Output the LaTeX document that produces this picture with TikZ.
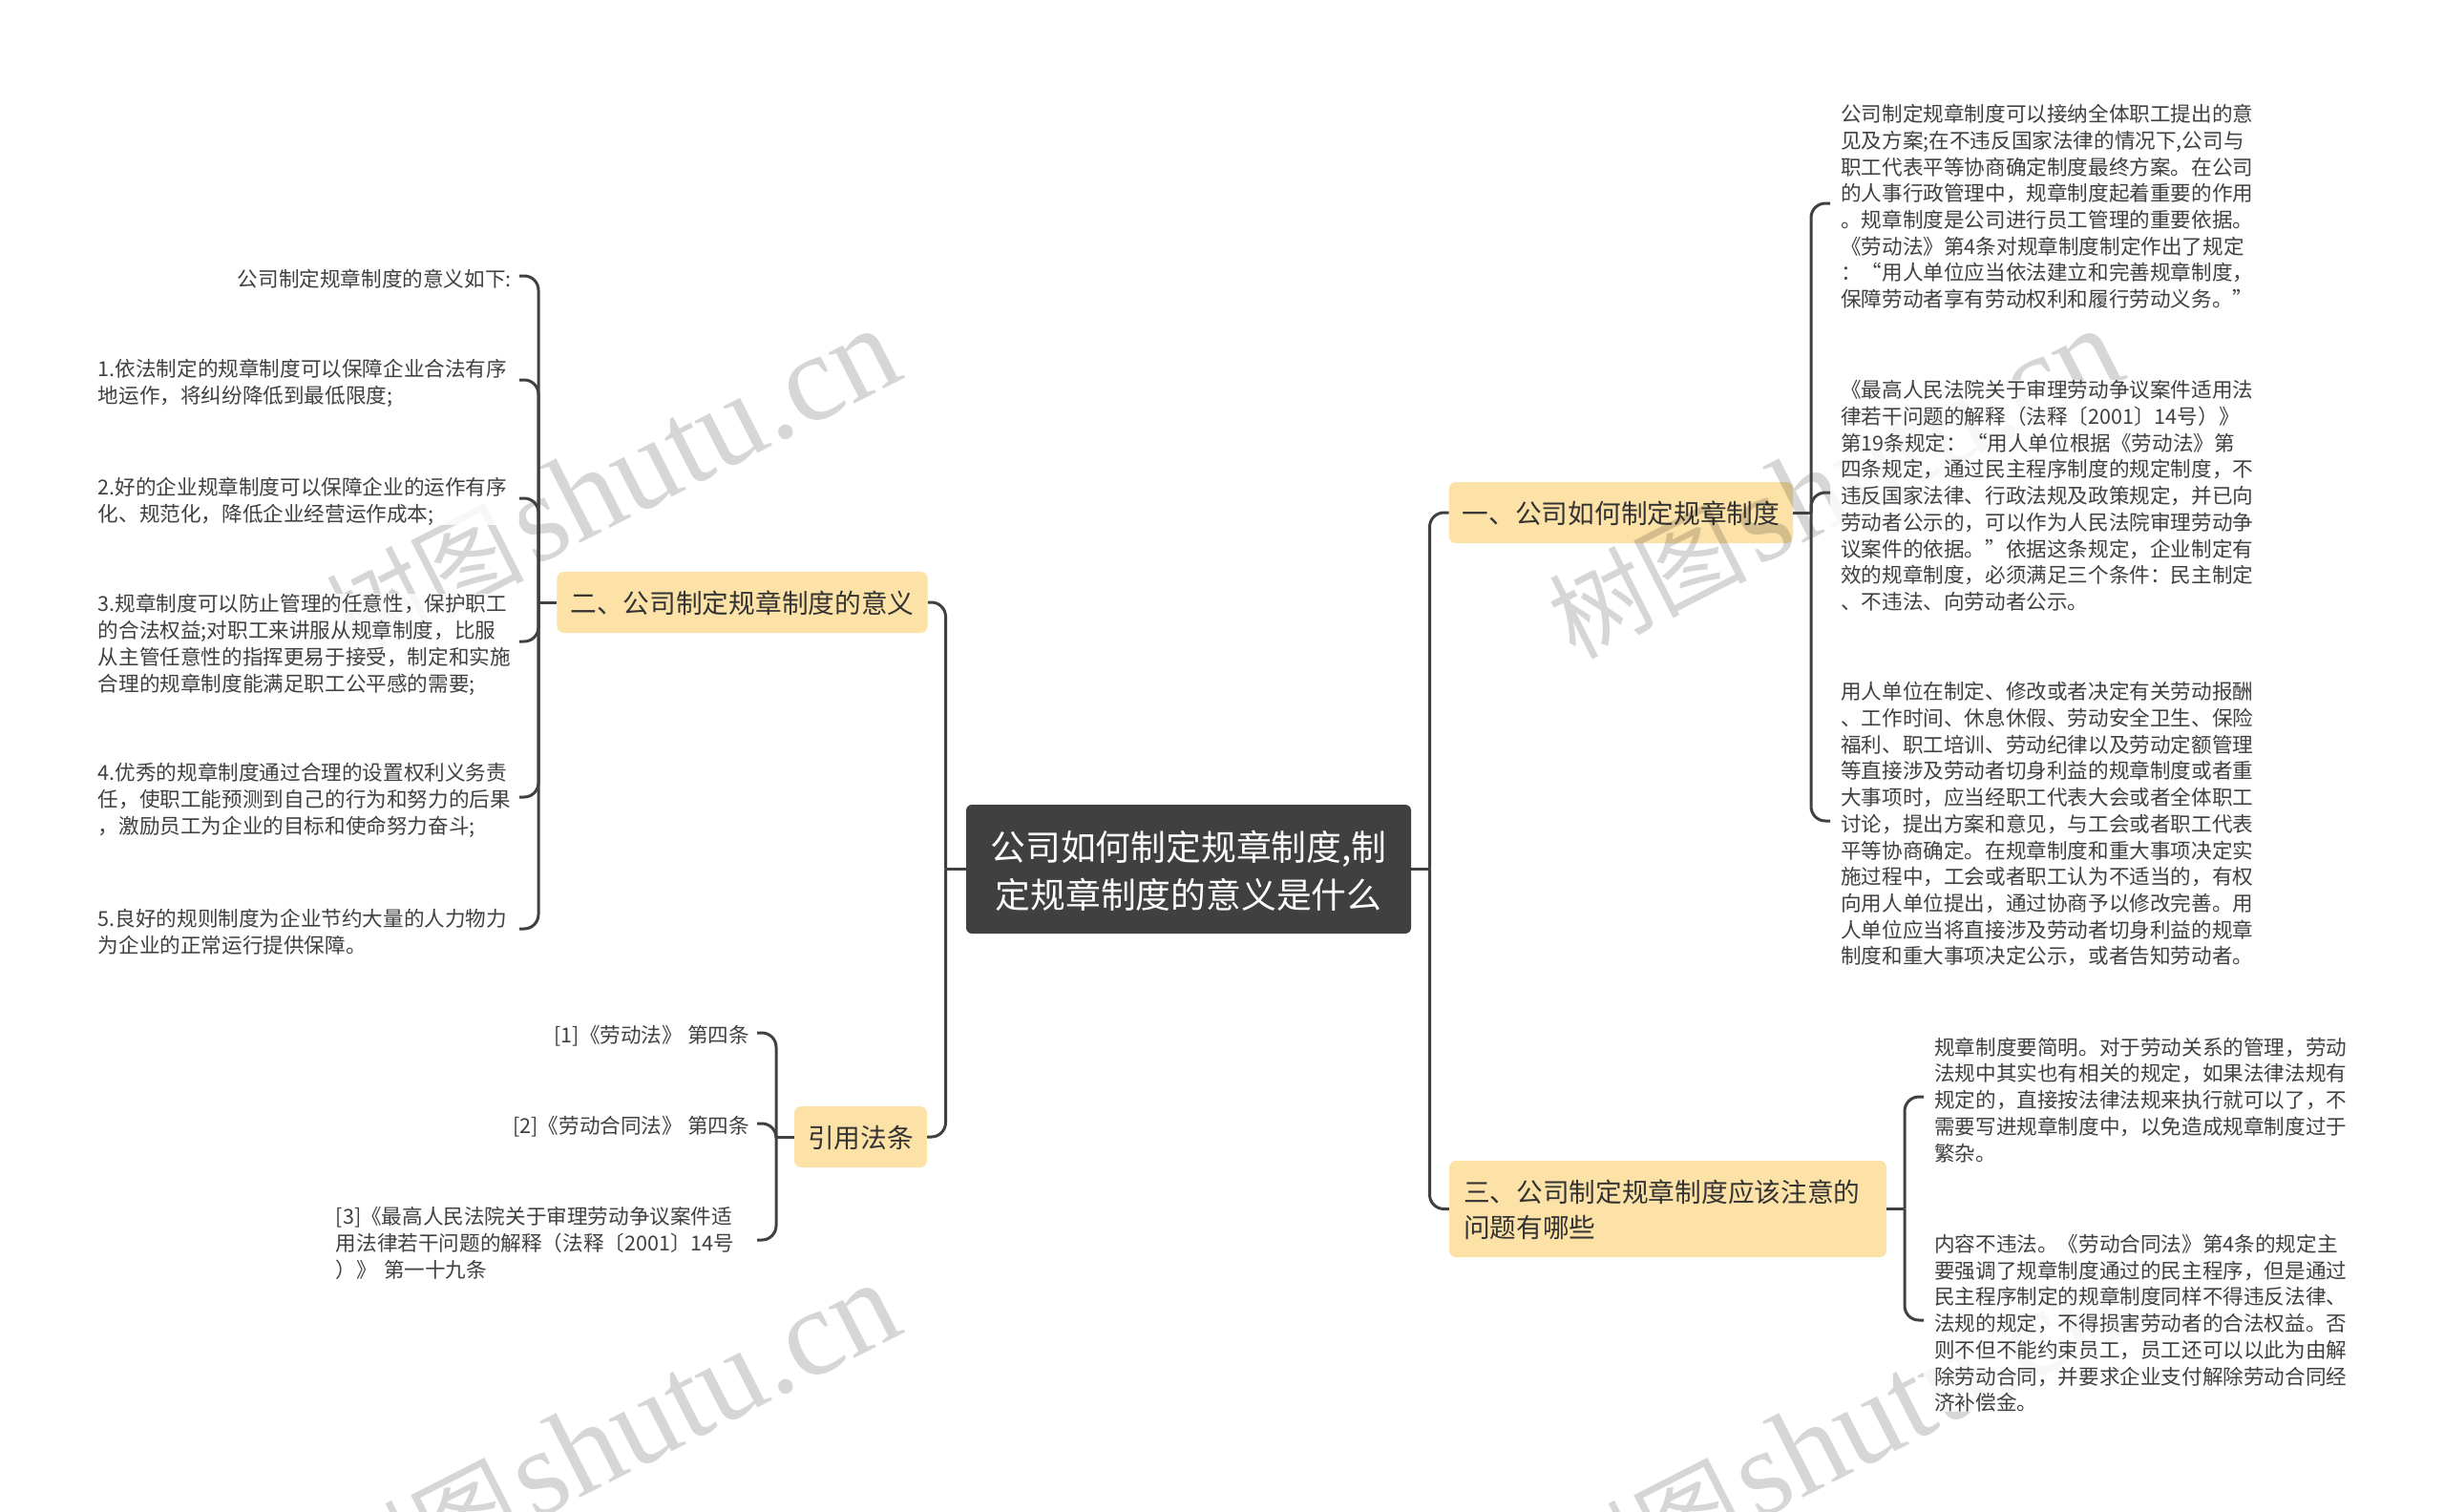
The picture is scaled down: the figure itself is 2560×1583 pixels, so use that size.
\documentclass[tikz,border=0pt]{standalone}
\usepackage{fontspec}
\setmainfont{Noto Sans CJK SC}
\newfontfamily\markfont{Liberation Serif}
\definecolor{inkgray}{HTML}{404040}
\definecolor{paleamber}{HTML}{FDE2A8}
\tikzset{
    rootbox/.style={fill=inkgray,rounded corners=6pt,text=white,minimum width=466pt,minimum height=135pt,text depth=0pt,align=center,font=\fontsize{36.8}{50}\selectfont},
    branchbox/.style={fill=paleamber,rounded corners=7pt,text=black!80,minimum height=64pt,text depth=0pt,inner xsep=14pt,font=\fontsize{27.7}{37}\selectfont},
    leaftext/.style={fill=white,fill opacity=.8,text opacity=1,text=black!75,align=left,yshift=-3.3pt,inner xsep=11pt,inner ysep=0pt,font=\fontsize{21.6}{27.7}\selectfont},
    leafleft/.style={leaftext,anchor=east},
    leafshort/.style={leafleft,inner xsep=8pt},
    leafright/.style={leaftext,anchor=west,text width=430pt},
    link/.style={draw=inkgray,line width=3pt},
    curvelink/.style={link,rounded corners=15pt},
    markword/.style={black,opacity=.16,rotate=27,font=\fontsize{104}{104}\selectfont}
}
\begin{document}
\begin{tikzpicture}[x=1pt,y=-1pt]
        \useasboundingbox (0,0) rectangle (2560,1583);
        \node[rootbox] (root) at (1245,910.5) {公司如何制定规章制度,制\\定规章制度的意义是什么};
        \node[branchbox,minimum width=360pt] (part1) at (1698,537) {一、公司如何制定规章制度};
        \node[branchbox,minimum width=387pt] (part2) at (777.5,631) {二、公司制定规章制度的意义};
        \node[branchbox,minimum height=101pt,text depth=37pt,inner xsep=15pt,text width=428pt,align=left] (part3) at (1747,1266.5) {三、公司制定规章制度应该注意的\\问题有哪些};
        \node[branchbox,minimum width=137pt] (cite) at (901.5,1191) {引用法条};
        \foreach \mx/\my in {0/0,1281/0,0/1000,1281/1000}
            \node[markword] at (\mx+640.5,\my+507) {树图\hspace{8pt}{\markfont\fontsize{130}{130}\selectfont shutu.cn}};
        \node[leafshort] (l1) at (544,289) {公司制定规章制度的意义如下:};
        \node[leafleft,text width=430pt] (l2) at (544,398) {1.依法制定的规章制度可以保障企业合法有序\\地运作，将纠纷降低到最低限度;};
        \node[leafleft,text width=430pt] (l3) at (544,522) {2.好的企业规章制度可以保障企业的运作有序\\化、规范化，降低企业经营运作成本;};
        \node[leafleft,text width=430pt] (l4) at (544,672) {3.规章制度可以防止管理的任意性，保护职工\\的合法权益;对职工来讲服从规章制度，比服\\从主管任意性的指挥更易于接受，制定和实施\\合理的规章制度能满足职工公平感的需要;};
        \node[leafleft,text width=430pt] (l5) at (544,835) {4.优秀的规章制度通过合理的设置权利义务责\\任，使职工能预测到自己的行为和努力的后果\\，激励员工为企业的目标和使命努力奋斗;};
        \node[leafleft,text width=430pt] (l6) at (544,973) {5.良好的规则制度为企业节约大量的人力物力\\为企业的正常运行提供保障。};
        \node[leafshort] (c1) at (793,1082) {[1]《劳动法》 第四条};
        \node[leafshort] (c2) at (793,1177) {[2]《劳动合同法》 第四条};
        \node[leafleft,text width=430pt] (c3) at (793,1299) {[3]《最高人民法院关于审理劳动争议案件适\\用法律若干问题的解释（法释〔2001〕14号\\）》 第一十九条};
        \node[leafright] (r1) at (1917,213) {公司制定规章制度可以接纳全体职工提出的意\\见及方案;在不违反国家法律的情况下,公司与\\职工代表平等协商确定制度最终方案。在公司\\的人事行政管理中，规章制度起着重要的作用\\。规章制度是公司进行员工管理的重要依据。\\《劳动法》第4条对规章制度制定作出了规定\\：“用人单位应当依法建立和完善规章制度，\\保障劳动者享有劳动权利和履行劳动义务。”};
        \node[leafright] (r2) at (1917,516) {《最高人民法院关于审理劳动争议案件适用法\\律若干问题的解释（法释〔2001〕14号）》\\第19条规定：“用人单位根据《劳动法》第\\四条规定，通过民主程序制度的规定制度，不\\违反国家法律、行政法规及政策规定，并已向\\劳动者公示的，可以作为人民法院审理劳动争\\议案件的依据。”依据这条规定，企业制定有\\效的规章制度，必须满足三个条件：民主制定\\、不违法、向劳动者公示。};
        \node[leafright] (r3) at (1917,860) {用人单位在制定、修改或者决定有关劳动报酬\\、工作时间、休息休假、劳动安全卫生、保险\\福利、职工培训、劳动纪律以及劳动定额管理\\等直接涉及劳动者切身利益的规章制度或者重\\大事项时，应当经职工代表大会或者全体职工\\讨论，提出方案和意见，与工会或者职工代表\\平等协商确定。在规章制度和重大事项决定实\\施过程中，工会或者职工认为不适当的，有权\\向用人单位提出，通过协商予以修改完善。用\\人单位应当将直接涉及劳动者切身利益的规章\\制度和重大事项决定公示，或者告知劳动者。};
        \node[leafright] (r4) at (2015,1149) {规章制度要简明。对于劳动关系的管理，劳动\\法规中其实也有相关的规定，如果法律法规有\\规定的，直接按法律法规来执行就可以了，不\\需要写进规章制度中，以免造成规章制度过于\\繁杂。};
        \node[leafright] (r5) at (2015,1383) {内容不违法。《劳动合同法》第4条的规定主\\要强调了规章制度通过的民主程序，但是通过\\民主程序制定的规章制度同样不得违反法律、\\法规的规定，不得损害劳动者的合法权益。否\\则不但不能约束员工，员工还可以以此为由解\\除劳动合同，并要求企业支付解除劳动合同经\\济补偿金。};
        \coordinate (hubl) at (990.5,910.5);
        \coordinate (hubr) at (1497.5,910.5);
        \coordinate (hub1) at (1897,537);
        \coordinate (hub2) at (564,631);
        \coordinate (hub3) at (1995,1266.5);
        \coordinate (hubc) at (813,1191);
        \draw[link] (root.west) -- (hubl);
        \draw[link] (root.east) -- (hubr);
        \draw[curvelink] (hubl) |- (part2.east);
        \draw[curvelink] (hubl) |- (cite.east);
        \draw[curvelink] (hubr) |- (part1.west);
        \draw[curvelink] (hubr) |- (part3.west);
        \draw[link] (part1.east) -- (hub1);
        \draw[link] (part2.west) -- (hub2);
        \draw[link] (part3.east) -- (hub3);
        \draw[link] (cite.west) -- (hubc);
        \foreach \leaf in {r1,r2,r3}
            \draw[curvelink] (hub1) |- ([yshift=3.3pt]\leaf.west);
        \foreach \leaf in {l1,l2,l3,l4,l5,l6}
            \draw[curvelink] (hub2) |- ([yshift=3.3pt]\leaf.east);
        \foreach \leaf in {r4,r5}
            \draw[curvelink] (hub3) |- ([yshift=3.3pt]\leaf.west);
        \foreach \leaf in {c1,c2,c3}
            \draw[curvelink] (hubc) |- ([yshift=3.3pt]\leaf.east);
    \end{tikzpicture}
\end{document}
